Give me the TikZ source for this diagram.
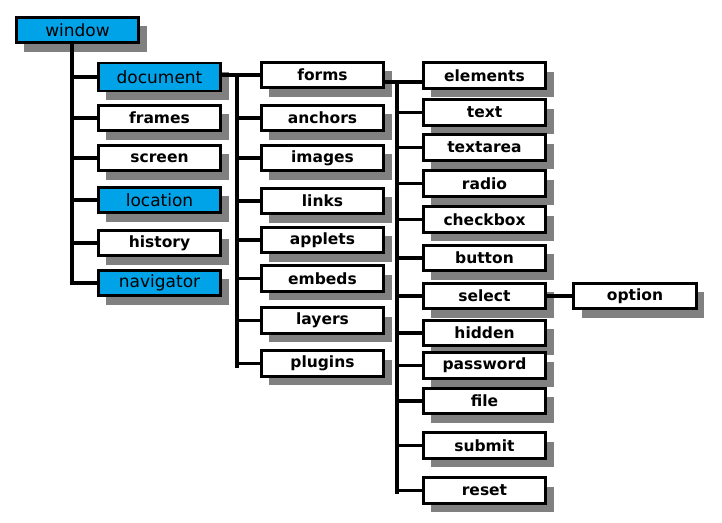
\documentclass[tikz,border=0pt]{standalone}
\usepackage{fontspec}
\setmainfont{DejaVu Sans}
\usetikzlibrary{shadows}
\definecolor{domblue}{RGB}{0,162,232}
\definecolor{shadowgray}{RGB}{128,128,128}
\tikzset{
  box/.style={draw, line width=2.6pt, fill=white, minimum width=122.5pt, minimum height=25.5pt, inner sep=0pt,
    font=\fontsize{15.5}{15.5}\selectfont\bfseries,
    drop shadow={shadow xshift=8pt, shadow yshift=-9pt, fill=shadowgray, opacity=1}},
  bluebox/.style={box, fill=domblue, font=\fontsize{17}{17}\selectfont},
  conn/.style={line width=3.2pt},
}
\begin{document}
\begin{tikzpicture}[x=1pt,y=-1pt]
\useasboundingbox (0,0) rectangle (722,522);
% column 0/1
\node[bluebox] (window) at (77.5,30) {window};
\node[bluebox, minimum height=28pt] (document) at (159.5,77) {document};
\node[box] (frames) at (159.5,118) {frames};
\node[box] (screen) at (159.5,158) {screen};
\node[bluebox] (location) at (159.5,200) {location};
\node[box] (history) at (159.5,243) {history};
\node[bluebox] (navigator) at (159.5,283) {navigator};
% column 2
\node[box] (forms) at (322.5,75) {forms};
\node[box] (anchors) at (322.5,118) {anchors};
\node[box] (images) at (322.5,158) {images};
\node[box] (links) at (322.5,201) {links};
\node[box] (applets) at (322.5,240) {applets};
\node[box] (embeds) at (322.5,278.5) {embeds};
\node[box] (layers) at (322.5,320.5) {layers};
\node[box] (plugins) at (322.5,363.5) {plugins};
% column 3
\node[box] (elements) at (484.5,75.5) {elements};
\node[box] (text) at (484.5,112.5) {text};
\node[box] (textarea) at (484.5,147.5) {textarea};
\node[box] (radio) at (484.5,183.5) {radio};
\node[box] (checkbox) at (484.5,219.5) {checkbox};
\node[box] (button) at (484.5,258) {button};
\node[box] (select) at (484.5,296) {select};
\node[box] (hidden) at (484.5,333) {hidden};
\node[box] (password) at (484.5,365.5) {password};
\node[box] (file) at (484.5,401) {file};
\node[box] (submit) at (484.5,445.5) {submit};
\node[box] (reset) at (484.5,490.5) {reset};
% column 4
\node[box] (option) at (635,296) {option};
% trunk 1
\coordinate (t1top) at (72,43);
\coordinate (t1bot) at (72,284.6);
\draw[conn] (t1top) -- (t1bot);
\foreach \n in {document,frames,screen,location,history,navigator}
  \draw[conn] (t1top |- \n.west) -- (\n.west);
% trunk 2
\coordinate (t2top) at (237,75);
\coordinate (t2bot) at (237,368);
\draw[conn] (document.east |- t2top) -- (forms.west);
\draw[conn] (t2top) -- (t2bot);
\foreach \n in {anchors,images,links,applets,embeds,layers,plugins}
  \draw[conn] (t2top |- \n.west) -- (\n.west);
% trunk 3
\coordinate (t3top) at (397,82);
\coordinate (t3bot) at (397,494);
\draw[conn] (forms.east |- t3top) -- (t3top);
\draw[conn] (t3top) -- (t3bot);
\draw[conn] (t3top) -- (elements.west |- t3top);
\foreach \n in {text,textarea,radio,checkbox,button,select,hidden,password,file,submit,reset}
  \draw[conn] (t3top |- \n.west) -- (\n.west);
% select -> option
\draw[conn] (select.east) -- (option.west);
\end{tikzpicture}
\end{document}
